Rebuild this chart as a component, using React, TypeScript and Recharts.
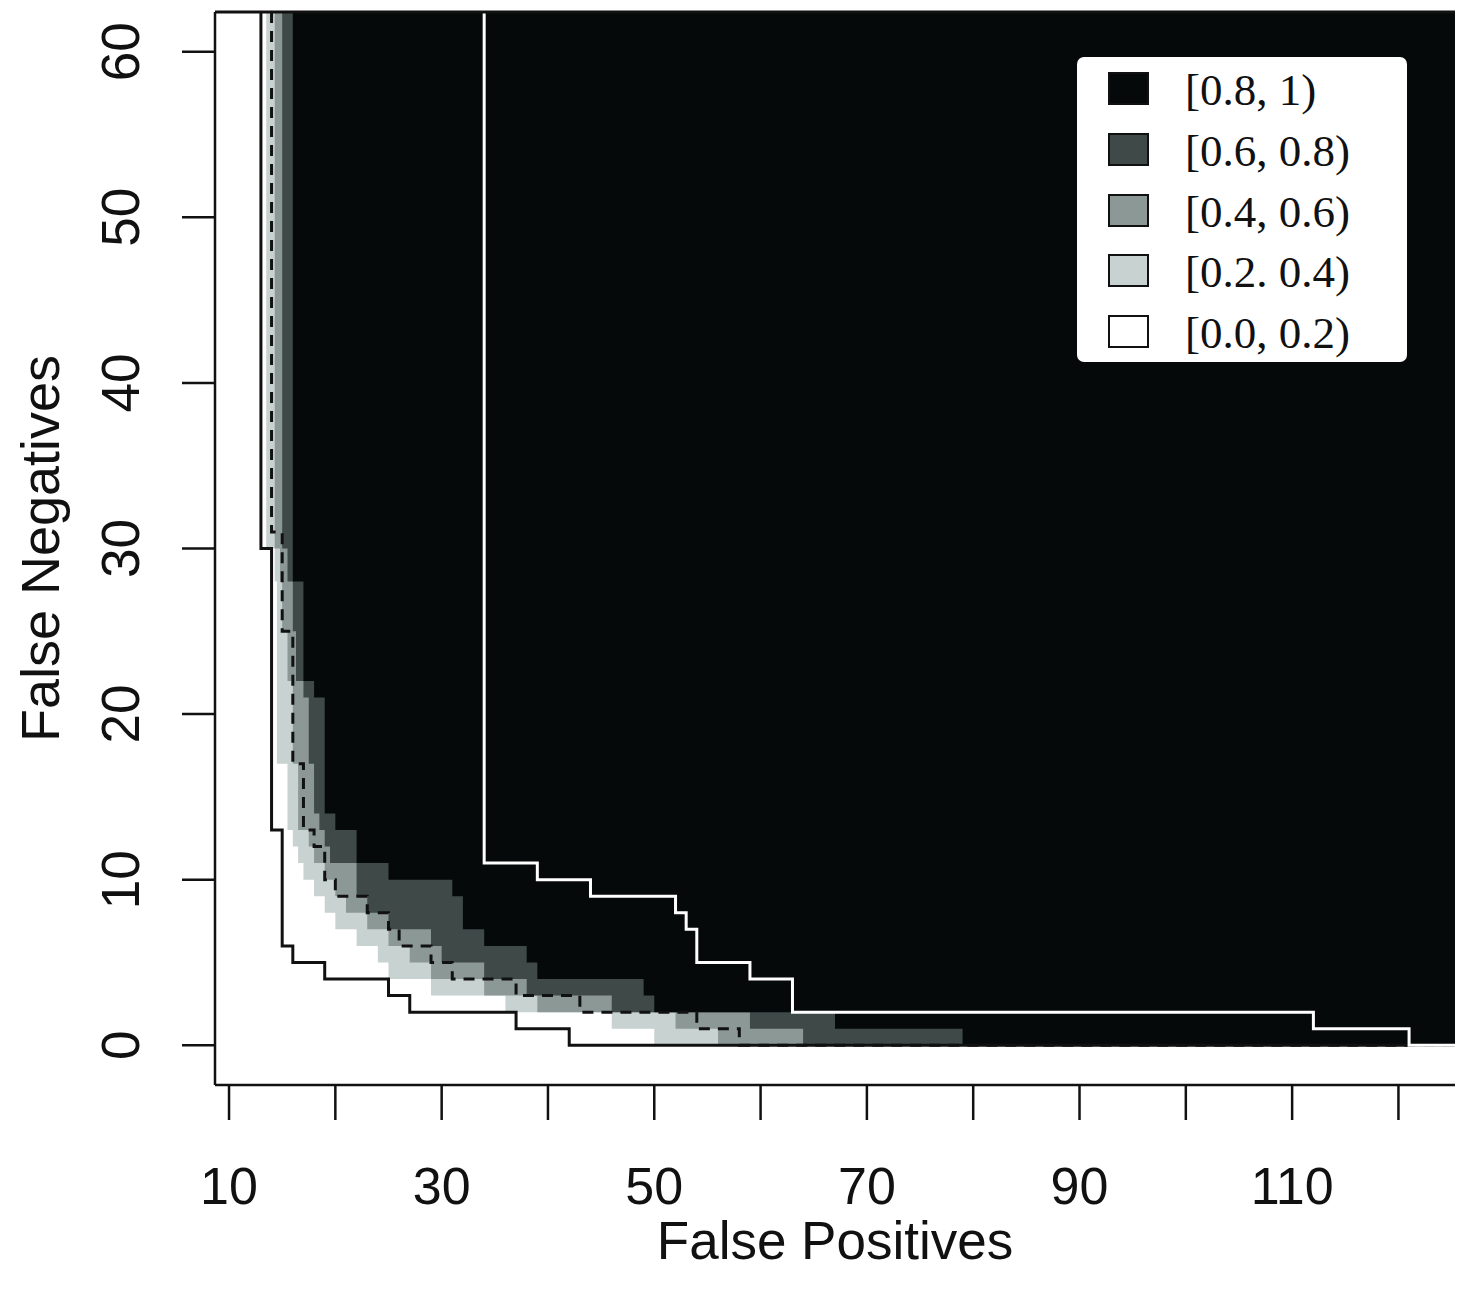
import React from 'react';
import { ComposedChart, Area, Line, XAxis, YAxis, ReferenceLine, Legend, Label } from 'recharts';

// Attainment-surface corner points: [false positives, false negatives]
const bestSurface: [number, number][] = [[13, 30], [14, 13], [15, 6], [16, 5], [19, 4], [25, 3], [27, 2], [37, 1], [42, 0]];
const medianSurface: [number, number][] = [[14, 31], [15, 25], [16, 17], [17, 13], [18, 12], [19, 10], [20, 9], [23, 8], [25, 7], [26, 6], [29, 5], [31, 4], [37, 3], [43, 2], [54, 1], [58, 0]];
const worstSurface: [number, number][] = [[34, 11], [39, 10], [44, 9], [52, 8], [53, 7], [54, 5], [59, 4], [63, 2], [112, 1], [121, 0]];

// Boundaries of the shaded attainment bands
const level20: [number, number][] = [[13.5, 30], [14.3, 28], [14.5, 17], [15.5, 13], [16, 12], [16.5, 11], [17, 10], [18, 9], [19, 8], [20, 7], [22, 6], [24, 5], [25, 4], [29, 3], [36, 2], [46, 1], [50, 0]];
const level40: [number, number][] = [[14.3, 30], [14.8, 28], [15, 25], [15.5, 22], [16, 17], [16.5, 13], [17.5, 12], [18, 11], [19, 10], [20, 9], [21, 8], [23, 7], [25, 6], [27, 5], [29, 4], [34, 3], [39, 2], [52, 1], [56, 0]];
const level60: [number, number][] = [[15, 30], [15.5, 28], [16, 25], [16.3, 22], [17, 21], [17.5, 17], [18, 14], [18.5, 13], [19, 12], [19.5, 11], [22, 9], [23, 8], [25, 7], [29, 6], [30, 5], [34, 4], [38, 3], [46, 2], [59, 1], [64, 0]];
const level80: [number, number][] = [[16, 28], [17, 22], [18, 21], [19, 14], [20, 13], [22, 11], [25, 10], [31, 9], [32, 7], [34, 6], [38, 5], [39, 4], [49, 3], [50, 2], [67, 1], [79, 0]];

const xTicks = [10, 20, 30, 40, 50, 60, 70, 80, 90, 100, 110, 120];
const xTickLabels = [10, 30, 50, 70, 90, 110];
const yTicks = [0, 10, 20, 30, 40, 50, 60];

const legendLabels = ['[0.8, 1)', '[0.6, 0.8)', '[0.4, 0.6)', '[0.2. 0.4)', '[0.0, 0.2)'];
const bandColors = ['#060909', '#3e4948', '#8c9896', '#c8d2d0', '#ffffff'];

const X_MIN = 8.68;
const X_MAX = 125.32;
const Y_MIN = -2.4;
const Y_MAX = 62.4;

const SANS = '"Liberation Sans", Arial, Helvetica, sans-serif';
const SERIF = '"Liberation Serif", "Times New Roman", serif';

const areaData = (pts: [number, number][]) => [
  ...pts.map(([x, y]) => ({ x, y })),
  { x: X_MAX, y: 0 },
];

const lineData = (pts: [number, number][]) => [
  { x: pts[0][0], y: Y_MAX },
  ...pts.map(([x, y]) => ({ x, y })),
  { x: X_MAX, y: 0 },
];

const YTick = (props: any) => {
  const { x, y, payload } = props;
  return (
    <text transform={`translate(${x},${y}) rotate(-90)`} textAnchor="middle" fontSize={53} fontFamily={SANS} fill="#111">
      {payload.value}
    </text>
  );
};

const LegendBox = () => (
  <div style={{ position: 'relative', width: 330, height: 305, background: '#fff', borderRadius: 7, fontFamily: SERIF }}>
    {legendLabels.map((label, i) => (
      <div key={label} style={{ position: 'absolute', left: 31, top: 15 + i * 60.8, height: 33, display: 'flex', alignItems: 'center' }}>
        <div style={{ width: 41, height: 33, boxSizing: 'border-box', border: '2.5px solid #111', background: bandColors[i] }} />
        <span style={{ marginLeft: 36, fontSize: 45, lineHeight: '33px', color: '#111', whiteSpace: 'nowrap', position: 'relative', top: 2 }}>{label}</span>
      </div>
    ))}
  </div>
);

export default function App() {
  const levels = [level20, level40, level60, level80];
  const levelColors = [bandColors[3], bandColors[2], bandColors[1], bandColors[0]];
  return (
    <div style={{ position: 'absolute', left: 0, top: 0, background: '#fff' }}>
      <ComposedChart width={1461} height={1295} margin={{ top: 12, right: 6, left: 0, bottom: 0 }}>
        <XAxis
          type="number"
          dataKey="x"
          domain={[X_MIN, X_MAX]}
          allowDataOverflow
          ticks={xTicks}
          interval={0}
          tickFormatter={(v: number) => (xTickLabels.includes(v) ? String(v) : '')}
          tickSize={35}
          tickMargin={47}
          height={210}
          axisLine={{ stroke: '#111', strokeWidth: 2.5 }}
          tickLine={{ stroke: '#111', strokeWidth: 2.5 }}
          tick={{ fill: '#111', fontSize: 52, fontFamily: SANS }}
        >
          <Label
            content={(p: any) => {
              const vb = p.viewBox || { x: 215, y: 1085, width: 1240, height: 210 };
              return (
                <text x={vb.x + vb.width / 2} y={vb.y + 174} textAnchor="middle" fontSize={53} fontFamily={SANS} fill="#111">
                  False Positives
                </text>
              );
            }}
          />
        </XAxis>
        <YAxis
          type="number"
          domain={[Y_MIN, Y_MAX]}
          allowDataOverflow
          ticks={yTicks}
          interval={0}
          width={215}
          tickSize={33}
          tickMargin={43}
          axisLine={{ stroke: '#111', strokeWidth: 2.5 }}
          tickLine={{ stroke: '#111', strokeWidth: 2.5 }}
          tick={<YTick />}
        >
          <Label
            content={(p: any) => {
              const vb = p.viewBox || { x: 0, y: 12, width: 215, height: 1073 };
              return (
                <text transform={`translate(${vb.x + 59},${vb.y + vb.height / 2}) rotate(-90)`} textAnchor="middle" fontSize={54} fontFamily={SANS} fill="#111">
                  False Negatives
                </text>
              );
            }}
          />
        </YAxis>
        {levels.map((lv, i) => (
          <Area
            key={`lv${i}`}
            data={areaData(lv)}
            dataKey="y"
            type="stepAfter"
            baseValue="dataMax"
            fill={levelColors[i]}
            fillOpacity={1}
            stroke="none"
            dot={false}
            activeDot={false}
            isAnimationActive={false}
          />
        ))}
        <Line data={lineData(bestSurface)} dataKey="y" type="stepAfter" stroke="#111" strokeWidth={3} dot={false} activeDot={false} isAnimationActive={false} />
        <Line data={lineData(medianSurface)} dataKey="y" type="stepAfter" stroke="#111" strokeWidth={3} strokeDasharray="11 8" dot={false} activeDot={false} isAnimationActive={false} />
        <Line data={lineData(worstSurface)} dataKey="y" type="stepAfter" stroke="#ffffff" strokeWidth={3} dot={false} activeDot={false} isAnimationActive={false} />
        <ReferenceLine y={Y_MAX} stroke="#111" strokeWidth={3} />
        <Legend
          layout="vertical"
          align="center"
          verticalAlign="middle"
          content={() => <LegendBox />}
          wrapperStyle={{ left: 1077, top: 57, width: 330, height: 305 }}
        />
      </ComposedChart>
    </div>
  );
}
